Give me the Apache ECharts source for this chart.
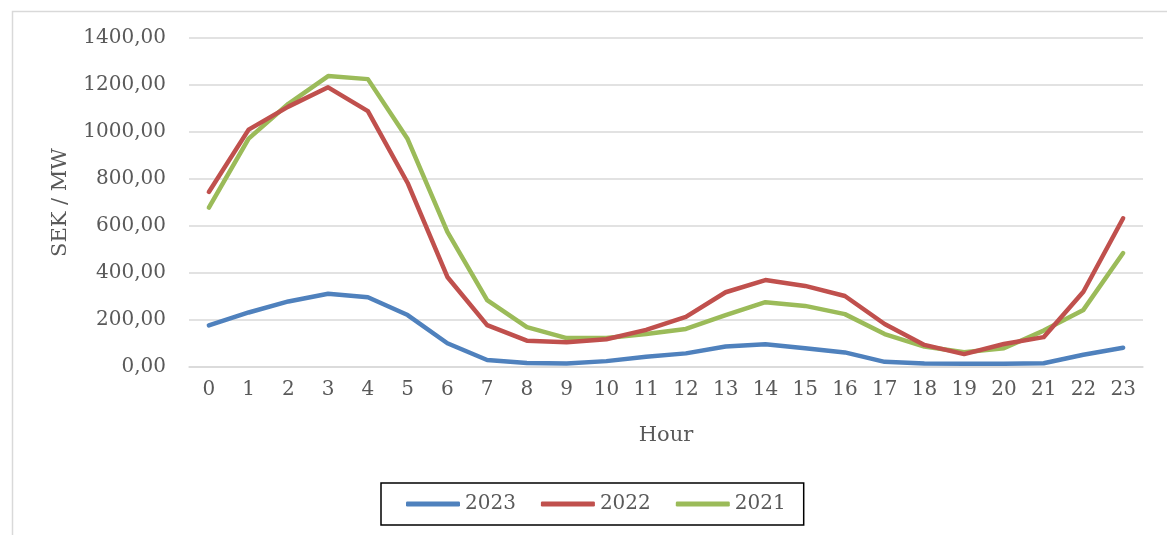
<!DOCTYPE html>
<html>
<head>
<meta charset="utf-8">
<script src="https://cdn.jsdelivr.net/npm/echarts@6/dist/echarts.min.js"></script>
<style>
html,body{margin:0;padding:0;background:#fff;}
#chart{width:1167px;height:535px;}
</style>
</head>
<body>
<div id="chart"></div>
<script>
const hours = ["0","1","2","3","4","5","6","7","8","9","10","11","12","13","14","15","16","17","18","19","20","21","22","23"];
const s2023 = [177,232,279,312,297,221,101,30,17,15,25,44,58,87,97,80,62,22,15,14,14,16,52,82];
const s2022 = [745,1010,1108,1190,1089,783,383,178,112,105,118,158,213,318,370,345,302,183,94,55,98,127,320,633];
const s2021 = [678,972,1120,1238,1225,970,575,285,170,123,123,140,162,221,276,260,225,140,87,63,80,155,243,485];
const seriesNames = ["2023","2022","2021"];
const colors = ["#4F81BD","#C0504D","#9BBB59"];

const font = "DejaVu Serif";
const chart = echarts.init(document.getElementById('chart'), null, {renderer:'canvas'});
const dataSets = [s2023, s2022, s2021];
chart.setOption({
  animation:false,
  backgroundColor:'#fff',
  textStyle:{fontFamily:font},
  graphic:[{
    type:'rect', left:10, top:9, z:-1,
    shape:{x:0,y:0,width:1200,height:600},
    style:{fill:'none', stroke:'#d9d9d9', lineWidth:1.5}
  }],
  grid:{left:189, right:24, top:38, bottom:168, containLabel:false},
  legend:{
    left:381, top:483,
    data:seriesNames,
    icon:'roundRect',
    itemWidth:54, itemHeight:5,
    itemGap:25,
    padding:[11,18,11,25],
    borderColor:'#000', borderWidth:1.5,
    textStyle:{fontFamily:font, fontSize:20, color:'#595959', padding:[0,0,0,0]}
  },
  xAxis:{
    type:'category',
    data:hours,
    boundaryGap:true,
    name:'Hour',
    nameLocation:'middle',
    nameGap:58,
    nameTextStyle:{fontFamily:font, fontSize:21, color:'#595959'},
    axisLine:{show:true, lineStyle:{color:'#d9d9d9', width:1.5}},
    axisTick:{show:false},
    axisLabel:{fontFamily:font, fontSize:20, color:'#595959', margin:13, interval:0}
  },
  yAxis:{
    type:'value',
    min:0, max:1400, interval:200,
    name:'SEK / MW',
    nameLocation:'middle',
    nameGap:118,
    nameTextStyle:{fontFamily:font, fontSize:21, color:'#595959'},
    axisLine:{show:false},
    axisTick:{show:false},
    axisLabel:{fontFamily:font, fontSize:20, color:'#595959', margin:23,
      formatter:v => v.toFixed(2).replace('.', ',')},
    splitLine:{lineStyle:{color:'#d9d9d9', width:1.5}}
  },
  series: seriesNames.map((n,i)=>({
    name:n, type:'line', data:dataSets[i],
    symbol:'none', smooth:false,
    itemStyle:{color:colors[i]},
    lineStyle:{color:colors[i], width:4.5, cap:'round', join:'round'},
    z: 10 - i
  }))
});
</script>
</body>
</html>
